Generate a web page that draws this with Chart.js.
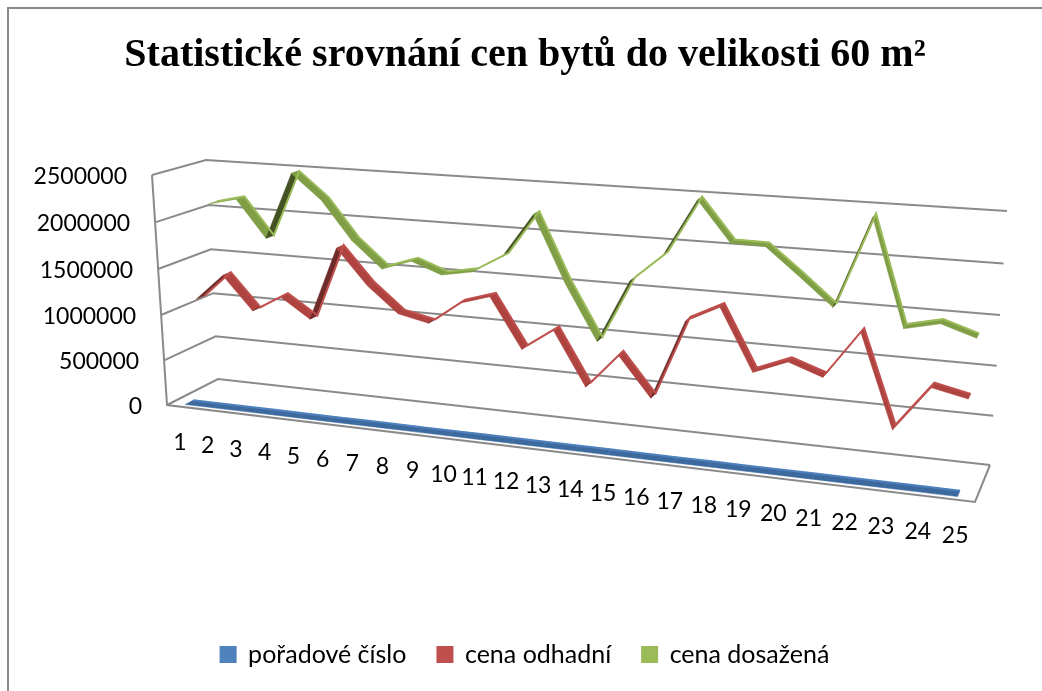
<!DOCTYPE html>
<html>
<head>
<meta charset="utf-8">
<title>Statistické srovnání cen bytů</title>
<script src="https://cdn.jsdelivr.net/npm/chart.js@4"></script>
<style>
  html, body { margin: 0; padding: 0; background: #fff; }
  canvas { display: block; }
</style>
</head>
<body>
<canvas id="priceChart" width="1042" height="691"></canvas>
<script>
const categories = ['1','2','3','4','5','6','7','8','9','10','11','12','13','14','15','16','17','18','19','20','21','22','23','24','25'];
const poradoveCislo = [1,2,3,4,5,6,7,8,9,10,11,12,13,14,15,16,17,18,19,20,21,22,23,24,25];
const cenaOdhadni = [1090000,1380000,1020000,1205000,990000,1780000,1410000,1140000,1070000,1310000,1410000,890000,1120000,565000,930000,520000,1340000,1510000,890000,1030000,910000,1385000,460000,915000,840000];
const cenaDosazena = [2070000,2145000,1740000,2465000,2200000,1790000,1510000,1620000,1500000,1560000,1750000,2210000,1520000,945000,1600000,1890000,2470000,2065000,2060000,1790000,1510000,2415000,1360000,1440000,1330000];
const yTicks = [0,500000,1000000,1500000,2000000,2500000];

// roh 3D krabice (predni / zadni stena)
const box = {
    frontBL: [167,405], frontTL: [152,175], frontBR: [975,502], frontTR: [993,235],
    backBL: [218,379], backTL: [206,160], backBR: [990,465], backTR: [1007,211]
};
const depths = [1/6, 1/2, 5/6];
const ribbon = 0.08;
const lit = ['#3D6A9E', '#AF4340', '#7F9E45'];
const dark = ['#2C4D74', '#6E2B29', '#445224'];
const gridColor = '#8A8A8A';
const labelFont = '23px Lato';

function lerp(a, b, t) {
    return [a[0] + (b[0] - a[0]) * t, a[1] + (b[1] - a[1]) * t];
}

// u,v v rovine hloubky d -> pixel (homografie ctverce na ctyruhelnik)
function project(u, v, d) {
    const p0 = lerp(box.frontBL, box.backBL, d);
    const p1 = lerp(box.frontBR, box.backBR, d);
    const p2 = lerp(box.frontTR, box.backTR, d);
    const p3 = lerp(box.frontTL, box.backTL, d);
    const dx1 = p1[0] - p2[0], dx2 = p3[0] - p2[0], sx = p0[0] - p1[0] + p2[0] - p3[0];
    const dy1 = p1[1] - p2[1], dy2 = p3[1] - p2[1], sy = p0[1] - p1[1] + p2[1] - p3[1];
    const den = dx1 * dy2 - dx2 * dy1;
    const g = (sx * dy2 - dx2 * sy) / den;
    const h = (dx1 * sy - sx * dy1) / den;
    const w = g * u + h * v + 1;
    return [
        ((p1[0] - p0[0] + g * p1[0]) * u + (p3[0] - p0[0] + h * p3[0]) * v + p0[0]) / w,
        ((p1[1] - p0[1] + g * p1[1]) * u + (p3[1] - p0[1] + h * p3[1]) * v + p0[1]) / w
    ];
}

function uvOf(chart, index, value) {
    const area = chart.chartArea;
    return [
        (chart.scales.x.getPixelForValue(index) - area.left) / (area.right - area.left),
        (area.bottom - chart.scales.y.getPixelForValue(value)) / (area.bottom - area.top)
    ];
}

function strokePath(ctx, pts) {
    ctx.beginPath();
    pts.forEach((p, i) => i ? ctx.lineTo(p[0], p[1]) : ctx.moveTo(p[0], p[1]));
    ctx.stroke();
}

const perspective = {
    id: 'perspective',
    beforeDraw(chart) {
        const ctx = chart.ctx;
        ctx.save();
        ctx.strokeStyle = gridColor;
        ctx.lineWidth = 2;
        strokePath(ctx, [[8, 691], [8, 8], [1042, 8]]);
        ctx.restore();
    },
    // data prepocitana do perspektivy
    afterDatasetsUpdate(chart) {
        chart.data.datasets.forEach((ds, di) => {
            chart.getDatasetMeta(di).data.forEach((pt, i) => {
                const uv = uvOf(chart, i, ds.data[i]);
                const p = project(uv[0], uv[1], depths[di] + ribbon);
                pt.x = p[0];
                pt.y = p[1];
            });
        });
    },
    beforeDatasetsDraw(chart) {
        const ctx = chart.ctx;
        ctx.save();
        ctx.strokeStyle = gridColor;
        ctx.lineWidth = 2;
        yTicks.forEach(t => {
            const v = uvOf(chart, 0, t)[1];
            strokePath(ctx, [project(0, v, 0), project(0, v, 1), project(1, v, 1)]);
        });
        strokePath(ctx, [project(0, 1, 0), project(0, 0, 0), project(1, 0, 0), project(1, 0, 1)]);

        // popisky osy
        ctx.fillStyle = '#000';
        ctx.font = labelFont;
        ctx.textBaseline = 'middle';
        ctx.textAlign = 'right';
        chart.scales.y.ticks.forEach(t => {
            const p = project(0, uvOf(chart, 0, t.value)[1], 0);
            ctx.fillText(t.label, p[0] - 25, p[1] + 1.5);
        });
        ctx.textAlign = 'center';
        categories.forEach((c, i) => {
            const p = project(uvOf(chart, i, 0)[0], 0, 0);
            ctx.fillText(c, p[0] - 1, p[1] + 36);
        });
        ctx.restore();
    },
    // stuha pod kazdou cenovou linkou
    beforeDatasetDraw(chart, args) {
        const ctx = chart.ctx;
        const di = args.index;
        const ds = chart.data.datasets[di];
        const d0 = depths[di] - ribbon, d1 = depths[di] + ribbon;
        ctx.save();
        ctx.lineWidth = 0.5;
        for (let i = 0; i < ds.data.length - 1; i++) {
            const a = uvOf(chart, i, ds.data[i]);
            const b = uvOf(chart, i + 1, ds.data[i + 1]);
            const p = [project(a[0], a[1], d0), project(b[0], b[1], d0), project(b[0], b[1], d1), project(a[0], a[1], d1)];
            const cross = (p[1][0] - p[0][0]) * (p[3][1] - p[0][1]) - (p[1][1] - p[0][1]) * (p[3][0] - p[0][0]);
            const col = cross > 0 ? dark[di] : lit[di];
            ctx.fillStyle = col;
            ctx.strokeStyle = col;
            ctx.beginPath();
            p.forEach((q, k) => k ? ctx.lineTo(q[0], q[1]) : ctx.moveTo(q[0], q[1]));
            ctx.closePath();
            ctx.fill();
            ctx.stroke();
        }
        ctx.restore();
    }
};

new Chart(document.getElementById('priceChart'), {
    type: 'line',
    data: {
        labels: categories,
        datasets: [
            { label: 'pořadové číslo', data: poradoveCislo, borderColor: '#4F81BD', backgroundColor: '#4F81BD' },
            { label: 'cena odhadní', data: cenaOdhadni, borderColor: '#C0504D', backgroundColor: '#C0504D' },
            { label: 'cena dosažená', data: cenaDosazena, borderColor: '#9BBB59', backgroundColor: '#9BBB59' }
        ].map(ds => Object.assign(ds, { borderWidth: 2, pointRadius: 0, tension: 0, clip: false, fill: false }))
    },
    options: {
        responsive: false,
        animation: false,
        layout: { padding: { left: 8, bottom: 14, top: 32 } },
        events: [],
        plugins: {
            tooltip: { enabled: false },
            title: {
                display: true,
                text: 'Statistické srovnání cen bytů do velikosti 60 m²',
                color: '#000',
                font: { family: 'Liberation Serif', size: 40, weight: 'bold' },
                padding: { top: 0, bottom: 40 }
            },
            legend: {
                position: 'bottom',
                labels: {
                    color: '#000',
                    font: { family: 'Lato', size: 25 },
                    boxWidth: 15,
                    boxHeight: 15,
                    padding: 31
                }
            }
        },
        scales: {
            x: { offset: true, ticks: { display: false }, grid: { display: false }, border: { display: false } },
            y: {
                min: 0,
                max: 2500000,
                afterBuildTicks(scale) { scale.ticks = yTicks.map(v => ({ value: v })); },
                ticks: { display: false, callback: v => String(v) },
                grid: { display: false },
                border: { display: false }
            }
        }
    },
    plugins: [perspective]
});
</script>
</body>
</html>
